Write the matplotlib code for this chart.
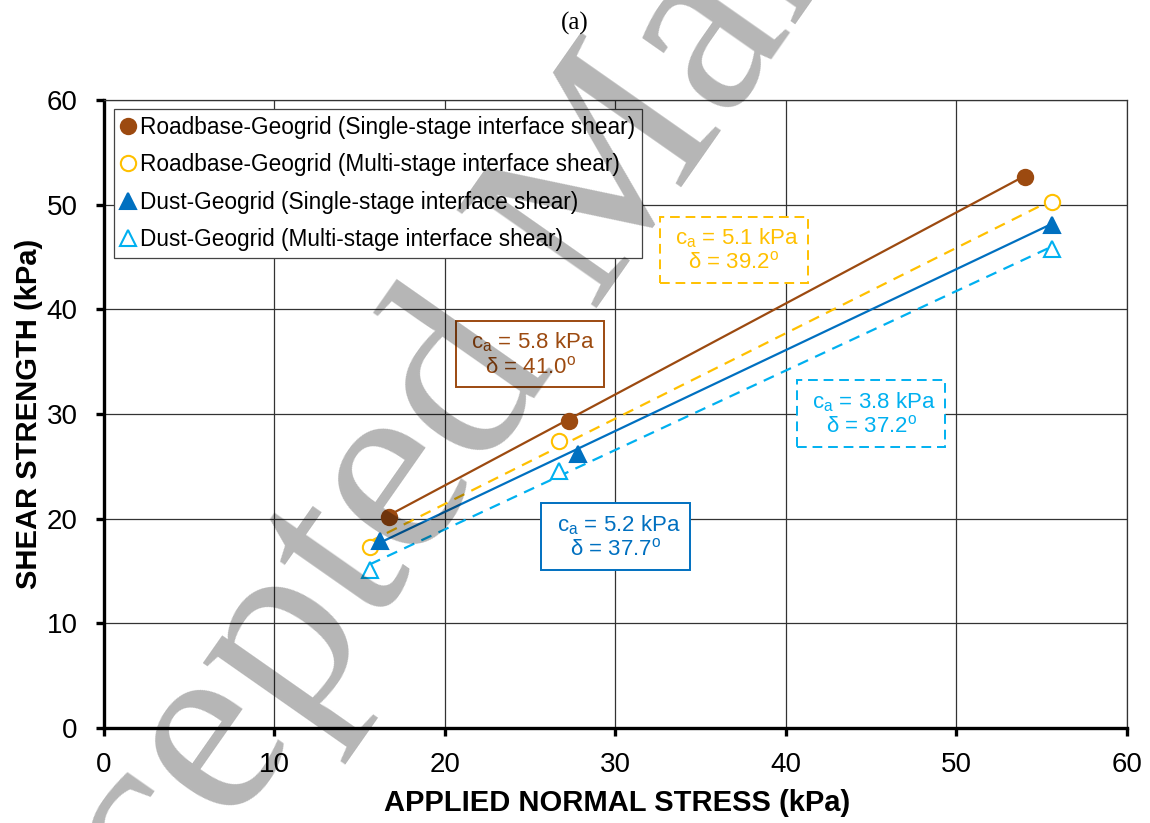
import numpy as np
import matplotlib

matplotlib.use("Agg")
import matplotlib.pyplot as plt
from matplotlib.lines import Line2D

plt.rcParams["font.family"] = ["Liberation Sans", "DejaVu Sans"]

# interface shear test results: normal stress (kPa) vs shear strength (kPa)
rb_single_x = [16.7, 27.3, 54.0]
rb_single_y = [20.2, 29.3, 52.6]
rb_multi_x = [15.6, 26.7, 55.6]
rb_multi_y = [17.3, 27.4, 50.3]
dust_single_x = [16.2, 27.8, 55.6]
dust_single_y = [17.9, 26.2, 48.1]
dust_multi_x = [15.6, 26.7, 55.6]
dust_multi_y = [15.1, 24.6, 45.8]

# fitted adhesion (kPa) and interface friction angle (deg)
adhesion = [5.8, 5.1, 5.2, 3.8]
friction = [41.0, 39.2, 37.7, 37.2]

names = [
    "Roadbase-Geogrid (Single-stage interface shear)",
    "Roadbase-Geogrid (Multi-stage interface shear)",
    "Dust-Geogrid (Single-stage interface shear)",
    "Dust-Geogrid (Multi-stage interface shear)",
]

BROWN = "#9C4A10"
YELLOW = "#FFC000"
BLUE = "#0070C0"
CYAN = "#00B0F0"
DASH = (0, (5, 3.5))

series = [
    (rb_single_x, rb_single_y, BROWN, "o", True, "-"),
    (rb_multi_x, rb_multi_y, YELLOW, "o", False, DASH),
    (dust_single_x, dust_single_y, BLUE, "^", True, "-"),
    (dust_multi_x, dust_multi_y, CYAN, "^", False, DASH),
]

# where each fit label sits (data coords) and its frame style
label_pos = [(25.0, 35.7, "-"), (36.95, 45.65, "--"), (30.0, 18.25, "-"), (45.0, 30.0, "--")]

fig = plt.figure(figsize=(11.5, 8.23), dpi=100)
ax = fig.add_axes([0.0904, 0.1154, 0.8896, 0.7631])

handles = []
for (xs, ys, col, mk, filled, ls), c, d in zip(series, adhesion, friction):
    xs = np.asarray(xs)
    xl = np.array([xs.min(), xs.max()])
    ax.plot(xl, c + np.tan(np.radians(d)) * xl, color=col, lw=1.6, ls=ls, zorder=3)
    ax.plot(xs, ys, ls="none", marker=mk, ms=11,
            mfc=col if filled else "white", mec=col, mew=1.5, zorder=4)
    handles.append(Line2D([], [], ls="none", marker=mk, ms=11,
                          mfc=col if filled else "white", mec=col, mew=1.5))

for (xs, ys, col, mk, filled, ls), c, d, (tx, ty, bls) in zip(series, adhesion, friction, label_pos):
    txt = f" c$_\\mathregular{{a}}$ = {c:.1f} kPa \nδ = {d:.1f}$^\\mathregular{{o}}$"
    ax.text(tx, ty, txt, color=col, fontsize=16, ha="center", va="center",
            linespacing=1.1, zorder=5,
            bbox=dict(boxstyle="square,pad=0.42", fc="white", ec=col, lw=1.4,
                      ls=(0, (5, 3)) if bls == "--" else "-"))

ax.set_xlim(0, 60)
ax.set_ylim(0, 60)
ax.set_xticks(range(0, 61, 10))
ax.set_yticks(range(0, 61, 10))
ax.grid(True, color="#333333", lw=0.9)
ax.set_axisbelow(True)
for side in ("top", "right"):
    ax.spines[side].set_color("#333333")
    ax.spines[side].set_linewidth(0.9)
for side in ("left", "bottom"):
    ax.spines[side].set_color("black")
    ax.spines[side].set_linewidth(2.4)
ax.tick_params(direction="out", length=6, width=2.4, labelsize=20)
ax.tick_params(axis="x", pad=11)
ax.tick_params(axis="y", pad=13)

ax.set_xlabel("APPLIED NORMAL STRESS (kPa)", fontsize=21, fontweight="bold")
ax.set_ylabel("SHEAR STRENGTH (kPa)", fontsize=21, fontweight="bold")
ax.xaxis.set_label_coords(0.502, -0.097)
ax.yaxis.set_label_coords(-0.06, 0.5)

leg = ax.legend(handles, names, loc="upper left", bbox_to_anchor=(0.0098, 0.986),
                fontsize=16.3, frameon=True, fancybox=False, edgecolor="#444444",
                framealpha=1, handlelength=0.6, handletextpad=0.25,
                borderpad=0.3, labelspacing=0.64, borderaxespad=0)
leg.get_frame().set_linewidth(0.9)
leg.set_zorder(6)

fig.text(0.5, 0.972, "(a)", ha="center", va="center", fontsize=18,
         family="Liberation Serif")

# diagonal manuscript watermark
fig.text(0.55, 0.688, "Accepted Manuscript", rotation=55, rotation_mode="anchor",
         ha="center", va="baseline", fontsize=188, family="Liberation Serif",
         color="black", alpha=0.29, zorder=10)

fig.savefig("out.png", dpi=100)
